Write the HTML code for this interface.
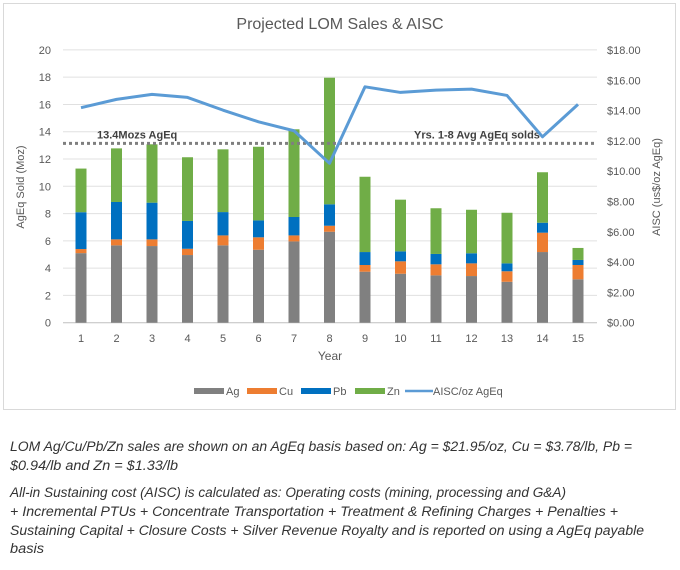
<!DOCTYPE html>
<html><head><meta charset="utf-8"><style>
body{margin:0;background:#fff;width:680px;height:565px;overflow:hidden;font-family:"Liberation Sans",sans-serif}
</style></head><body>
<svg id="c" width="680" height="565" xmlns="http://www.w3.org/2000/svg">
<rect x="3.5" y="3.5" width="672" height="406" fill="#fff" stroke="#d9d9d9"/>
<text x="340" y="29" text-anchor="middle" font-size="16" fill="#595959">Projected LOM Sales &amp; AISC</text>
<g id="grid"></g><g id="bars"></g><g id="line"></g>
<text x="24" y="187" transform="rotate(-90 24 187)" text-anchor="middle" font-size="11" fill="#595959">AgEq Sold (Moz)</text>
<text x="660" y="187" transform="rotate(-90 660 187)" text-anchor="middle" font-size="11" fill="#595959">AISC (us$/oz AgEq)</text>
<text x="330" y="360" text-anchor="middle" font-size="12" fill="#595959">Year</text>
<g id="legend" font-size="11" fill="#595959">
<rect x="194" y="388" width="30" height="6" fill="#808080"/><text x="226" y="395">Ag</text>
<rect x="247" y="388" width="30" height="6" fill="#ed7d31"/><text x="279" y="395">Cu</text>
<rect x="301" y="388" width="30" height="6" fill="#0070c0"/><text x="333" y="395">Pb</text>
<rect x="355" y="388" width="30" height="6" fill="#70ad47"/><text x="387" y="395">Zn</text>
<line x1="405" y1="391" x2="433" y2="391" stroke="#5b9bd5" stroke-width="2.5"/><text x="433" y="395">AISC/oz AgEq</text>
</g>
<g font-size="13.5" font-style="italic" fill="#333">
<text x="10" y="451" textLength="622" lengthAdjust="spacingAndGlyphs">LOM Ag/Cu/Pb/Zn sales are shown on an AgEq basis based on: Ag = $21.95/oz, Cu = $3.78/lb, Pb =</text>
<text x="10" y="470" textLength="168" lengthAdjust="spacingAndGlyphs">$0.94/lb and Zn = $1.33/lb</text>
<text x="10" y="497" textLength="556" lengthAdjust="spacingAndGlyphs">All-in Sustaining cost (AISC) is calculated as: Operating costs (mining, processing and G&amp;A)</text>
<text x="10" y="516" textLength="608" lengthAdjust="spacingAndGlyphs">+  Incremental PTUs + Concentrate Transportation + Treatment &amp; Refining Charges + Penalties +</text>
<text x="10" y="535" textLength="634" lengthAdjust="spacingAndGlyphs">Sustaining Capital  + Closure Costs + Silver Revenue Royalty and is reported on using a AgEq payable</text>
<text x="10" y="553" textLength="34" lengthAdjust="spacingAndGlyphs">basis</text>
</g>
</svg>
<script>
const years=[1,2,3,4,5,6,7,8,9,10,11,12,13,14,15];
const ag=[5.1,5.67,5.62,4.96,5.67,5.35,5.96,6.67,3.74,3.59,3.47,3.42,3.0,5.18,3.18];
const cu=[0.3,0.44,0.49,0.46,0.73,0.91,0.44,0.44,0.49,0.91,0.81,0.93,0.77,1.42,1.05];
const pb=[2.7,2.74,2.69,2.04,1.71,1.24,1.35,1.57,0.95,0.73,0.76,0.74,0.58,0.73,0.37];
const zn=[3.2,3.93,4.28,4.67,4.6,5.4,6.43,9.28,5.52,3.79,3.35,3.19,3.71,3.7,0.88];
const aisc=[14.19,14.74,15.07,14.87,14.03,13.26,12.67,10.52,15.57,15.2,15.35,15.42,15.0,12.27,14.41];
const avgLine=13.15;
const leftTicks=[0,2,4,6,8,10,12,14,16,18,20];
const rightTicks=["$0.00","$2.00","$4.00","$6.00","$8.00","$10.00","$12.00","$14.00","$16.00","$18.00"];
const NS="http://www.w3.org/2000/svg";
const y=v=>322.7-v*13.64;
const y2=v=>322.7-v*(272.7/18);
const x=i=>81+i*35.5;
function mk(tag,attrs,parent,text){const e=document.createElementNS(NS,tag);for(const k in attrs)e.setAttribute(k,attrs[k]);if(text!==undefined)e.textContent=text;parent.appendChild(e);return e;}
const grid=document.getElementById('grid');
leftTicks.forEach(t=>{
  const l=mk('line',{x1:63,x2:597,y1:y(t),y2:y(t),stroke:t===0?'#bfbfbf':'#e0e0e0','stroke-width':1},grid);
  
  
  const tx=mk('text',{x:51,y:y(t)+4,'text-anchor':'end','font-size':11,fill:'#595959'},grid,String(t));
  
  
});
rightTicks.forEach((t,i)=>{
  const tx=mk('text',{x:607,y:y2(i*2)+4,'font-size':11,fill:'#595959'},grid,t);
  
  
});
years.forEach((yr,i)=>{
  const tx=mk('text',{x:x(i),y:342,'text-anchor':'middle','font-size':11,fill:'#595959'},grid,String(yr));
  
  
});
const bars=document.getElementById('bars');
const series=[[ag,'#808080','ag'],[cu,'#ed7d31','cu'],[pb,'#0070c0','pb'],[zn,'#70ad47','zn']];
years.forEach((yr,i)=>{
  let base=0;
  series.forEach(([arr,col,nm])=>{
    const v=arr[i];
    const r=mk('rect',{x:x(i)-5.5,y:y(base+v),width:11,height:y(base)-y(base+v),fill:col},bars);
    
    
    base+=v;
  });
});
const lg=document.getElementById('line');
const avg=mk('line',{x1:63,x2:597,y1:y(avgLine),y2:y(avgLine),stroke:'#7f7f7f','stroke-width':3,'stroke-dasharray':'3 3'},lg);


const a1=mk('text',{x:97,y:y(avgLine)-5,'font-size':11,'font-weight':'bold',fill:'#404040'},lg,'13.4Mozs AgEq');


const a2=mk('text',{x:414,y:y(avgLine)-5,'font-size':11,'font-weight':'bold',fill:'#404040'},lg,'Yrs. 1-8  Avg AgEq solds');


const p=mk('polyline',{points:aisc.map((v,i)=>x(i)+','+y2(v)).join(' '),fill:'none',stroke:'#5b9bd5','stroke-width':3,'stroke-linejoin':'round'},lg);


</script>
</body></html>
